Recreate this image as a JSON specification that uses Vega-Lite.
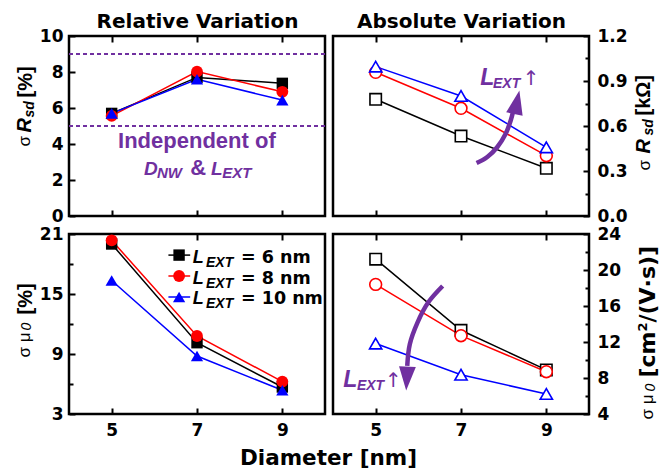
{
"$schema":"https://vega.github.io/schema/vega-lite/v6.json",
"padding":{"left":12,"top":9,"right":0,"bottom":0},
"datasets":{"main":[
{"p":"TL","L":"6","d":5,"v":5.70},{"p":"TL","L":"6","d":7,"v":7.70},{"p":"TL","L":"6","d":9,"v":7.37},
{"p":"TL","L":"8","d":5,"v":5.56},{"p":"TL","L":"8","d":7,"v":8.02},{"p":"TL","L":"8","d":9,"v":6.90},
{"p":"TL","L":"10","d":5,"v":5.70},{"p":"TL","L":"10","d":7,"v":7.60},{"p":"TL","L":"10","d":9,"v":6.44},
{"p":"TR","L":"6","d":5,"v":0.778},{"p":"TR","L":"6","d":7,"v":0.533},{"p":"TR","L":"6","d":9,"v":0.318},
{"p":"TR","L":"8","d":5,"v":0.958},{"p":"TR","L":"8","d":7,"v":0.718},{"p":"TR","L":"8","d":9,"v":0.402},
{"p":"TR","L":"10","d":5,"v":0.996},{"p":"TR","L":"10","d":7,"v":0.800},{"p":"TR","L":"10","d":9,"v":0.458},
{"p":"BL","L":"6","d":5,"v":20.0},{"p":"BL","L":"6","d":7,"v":10.13},{"p":"BL","L":"6","d":9,"v":5.70},
{"p":"BL","L":"8","d":5,"v":20.37},{"p":"BL","L":"8","d":7,"v":10.8},{"p":"BL","L":"8","d":9,"v":6.24},
{"p":"BL","L":"10","d":5,"v":16.35},{"p":"BL","L":"10","d":7,"v":8.8},{"p":"BL","L":"10","d":9,"v":5.37},
{"p":"BR","L":"6","d":5,"v":21.2},{"p":"BR","L":"6","d":7,"v":13.3},{"p":"BR","L":"6","d":9,"v":8.9},
{"p":"BR","L":"8","d":5,"v":18.4},{"p":"BR","L":"8","d":7,"v":12.7},{"p":"BR","L":"8","d":9,"v":8.7},
{"p":"BR","L":"10","d":5,"v":11.83},{"p":"BR","L":"10","d":7,"v":8.36},{"p":"BR","L":"10","d":9,"v":6.22}
]},
"columns":2,
"spacing":{"row":18,"column":8},
"bounds":"flush",
"concat":[
{"width":256,"height":180,
"data":{"name":"main"},
"transform":[{"filter":"datum.p==='TL'"}],
"resolve":{"axis":{"x":"independent","y":"independent"}},
"layer":[
{"mark":{"type":"point","opacity":0},"encoding":{
"x":{"field":"d","type":"quantitative","scale":{"domain":[4,10],"nice":false,"zero":false},"axis":{"orient":"bottom","values":[5,7,9],"tickSize":-6,"labels":false,"title":null}},
"y":{"field":"v","type":"quantitative","scale":{"domain":[0,10],"nice":false,"zero":false},"axis":{"orient":"left","values":[0,2,4,6,8,10],"tickSize":-6,"labelPadding":12,"title":"[%]","titleX":-38,"titleY":61,"titleFontSize":20,"titleFontWeight":"bold","titleAngle":-90,"titleAlign":"left","titleBaseline":"alphabetic"}}}},
{"mark":{"type":"point","opacity":0},"encoding":{
"x":{"field":"d","type":"quantitative","scale":{"domain":[4,10],"nice":false,"zero":false},"axis":{"orient":"top","values":[5,7,9],"tickSize":-6,"labels":false,"title":"Relative Variation","titleFont":"DejaVu Sans","titleFontSize":20,"titleFontWeight":"bold","titleAngle":0,"titleAlign":"center","titleBaseline":"alphabetic","titleX":128,"titleY":-9}},
"y":{"field":"v","type":"quantitative","scale":{"domain":[0,10],"nice":false,"zero":false},"axis":{"orient":"left","ticks":false,"labels":false,"title":"R","titleX":-39,"titleY":96,"titleFontSize":20,"titleFontWeight":"bold","titleFontStyle":"italic","titleAngle":-90,"titleAlign":"left","titleBaseline":"alphabetic"}}}},
{"mark":{"type":"point","opacity":0},"encoding":{
"x":{"field":"d","type":"quantitative","scale":{"domain":[4,10],"nice":false,"zero":false},"axis":null},
"y":{"field":"v","type":"quantitative","scale":{"domain":[0,10],"nice":false,"zero":false},"axis":{"orient":"left","ticks":false,"labels":false,"title":"sd","titleX":-36,"titleY":81,"titleFontSize":14,"titleFontWeight":"bold","titleFontStyle":"italic","titleAngle":-90,"titleAlign":"left","titleBaseline":"alphabetic"}}}},
{"mark":{"type":"point","opacity":0},"encoding":{
"x":{"field":"d","type":"quantitative","scale":{"domain":[4,10],"nice":false,"zero":false},"axis":null},
"y":{"field":"v","type":"quantitative","scale":{"domain":[0,10],"nice":false,"zero":false},"axis":{"orient":"left","ticks":false,"labels":false,"title":"σ","titleX":-40,"titleY":110,"titleFontSize":17,"titleFontWeight":"normal","titleAngle":-90,"titleAlign":"left","titleBaseline":"alphabetic"}}}},
{"data":{"values":[{"r":5},{"r":9}]},"mark":{"type":"rule","color":"#7030A0","strokeWidth":2,"strokeDash":[4,3]},"encoding":{
"y":{"field":"r","type":"quantitative","scale":{"domain":[0,10],"nice":false,"zero":false},"axis":null}}},
{"mark":{"type":"line","strokeWidth":1.5},"encoding":{
"x":{"field":"d","type":"quantitative","scale":{"domain":[4,10],"nice":false,"zero":false},"axis":null},
"y":{"field":"v","type":"quantitative","scale":{"domain":[0,10],"nice":false,"zero":false},"axis":null},
"color":{"field":"L","type":"nominal","scale":{"domain":["6","8","10"],"range":["black","#ff0000","#0000ff"]},"legend":null}}},
{"mark":{"type":"point","filled":true,"opacity":1},"encoding":{
"x":{"field":"d","type":"quantitative","scale":{"domain":[4,10],"nice":false,"zero":false},"axis":null},
"y":{"field":"v","type":"quantitative","scale":{"domain":[0,10],"nice":false,"zero":false},"axis":null},
"color":{"field":"L","type":"nominal","scale":{"domain":["6","8","10"],"range":["black","#ff0000","#0000ff"]},"legend":null},
"shape":{"field":"L","type":"nominal","scale":{"domain":["6","8","10"],"range":["square","circle","triangle-up"]},"legend":null},
"size":{"field":"L","type":"nominal","scale":{"domain":["6","8","10"],"range":[130,150,200]},"legend":null}}},
{"data":{"values":[{"t":"Independent of","x":5.15,"y":3.78},{"t":"&","x":6.84,"y":2.28}]},"mark":{"type":"text","font":"Liberation Sans","fontSize":22,"fontWeight":"bold","color":"#7030A0","align":"left","baseline":"alphabetic"},"encoding":{
"x":{"field":"x","type":"quantitative","scale":{"domain":[4,10],"nice":false,"zero":false},"axis":null},
"y":{"field":"y","type":"quantitative","scale":{"domain":[0,10],"nice":false,"zero":false},"axis":null},
"text":{"field":"t"}}},
{"data":{"values":[{"t":"D","x":5.76,"y":2.28},{"t":"L","x":7.33,"y":2.28}]},"mark":{"type":"text","font":"Liberation Sans","fontSize":19,"fontWeight":"bold","fontStyle":"italic","color":"#7030A0","align":"left","baseline":"alphabetic"},"encoding":{
"x":{"field":"x","type":"quantitative","scale":{"domain":[4,10],"nice":false,"zero":false},"axis":null},
"y":{"field":"y","type":"quantitative","scale":{"domain":[0,10],"nice":false,"zero":false},"axis":null},
"text":{"field":"t"}}},
{"data":{"values":[{"t":"NW","x":6.06,"y":2.28},{"t":"EXT","x":7.59,"y":2.28}]},"mark":{"type":"text","font":"Liberation Sans","fontSize":15,"fontWeight":"bold","fontStyle":"italic","color":"#7030A0","align":"left","baseline":"alphabetic","dy":3},"encoding":{
"x":{"field":"x","type":"quantitative","scale":{"domain":[4,10],"nice":false,"zero":false},"axis":null},
"y":{"field":"y","type":"quantitative","scale":{"domain":[0,10],"nice":false,"zero":false},"axis":null},
"text":{"field":"t"}}}
]},
{"width":256,"height":180,
"data":{"name":"main"},
"transform":[{"filter":"datum.p==='TR'"}],
"resolve":{"axis":{"x":"independent","y":"independent"}},
"layer":[
{"mark":{"type":"point","opacity":0},"encoding":{
"x":{"field":"d","type":"quantitative","scale":{"domain":[4,10],"nice":false,"zero":false},"axis":{"orient":"bottom","values":[5,7,9],"tickSize":-6,"labels":false,"title":null}},
"y":{"field":"v","type":"quantitative","scale":{"domain":[0,1.2],"nice":false,"zero":false},"axis":{"orient":"right","values":[0,0.3,0.6,0.9,1.2],"format":".1f","tickSize":-6,"labelPadding":14,"title":"[kΩ]","titleX":60,"titleY":79,"titleFontSize":20,"titleFontWeight":"bold","titleAngle":-90,"titleAlign":"left","titleBaseline":"alphabetic"}}}},
{"mark":{"type":"point","opacity":0},"encoding":{
"x":{"field":"d","type":"quantitative","scale":{"domain":[4,10],"nice":false,"zero":false},"axis":{"orient":"top","values":[5,7,9],"tickSize":-6,"labels":false,"title":"Absolute Variation","titleFont":"DejaVu Sans","titleFontSize":20,"titleFontWeight":"bold","titleAngle":0,"titleAlign":"center","titleBaseline":"alphabetic","titleX":128,"titleY":-9}},
"y":{"field":"v","type":"quantitative","scale":{"domain":[0,1.2],"nice":false,"zero":false},"axis":{"orient":"right","values":[0.15,0.45,0.75,1.05],"tickSize":-4,"labels":false,"title":"R","titleX":60,"titleY":117,"titleFontSize":20,"titleFontWeight":"bold","titleFontStyle":"italic","titleAngle":-90,"titleAlign":"left","titleBaseline":"alphabetic"}}}},
{"mark":{"type":"point","opacity":0},"encoding":{
"x":{"field":"d","type":"quantitative","scale":{"domain":[4,10],"nice":false,"zero":false},"axis":null},
"y":{"field":"v","type":"quantitative","scale":{"domain":[0,1.2],"nice":false,"zero":false},"axis":{"orient":"right","ticks":false,"labels":false,"title":"sd","titleX":63,"titleY":99,"titleFontSize":14,"titleFontWeight":"bold","titleFontStyle":"italic","titleAngle":-90,"titleAlign":"left","titleBaseline":"alphabetic"}}}},
{"mark":{"type":"point","opacity":0},"encoding":{
"x":{"field":"d","type":"quantitative","scale":{"domain":[4,10],"nice":false,"zero":false},"axis":null},
"y":{"field":"v","type":"quantitative","scale":{"domain":[0,1.2],"nice":false,"zero":false},"axis":{"orient":"right","ticks":false,"labels":false,"title":"σ","titleX":60,"titleY":134,"titleFontSize":17,"titleFontWeight":"normal","titleAngle":-90,"titleAlign":"left","titleBaseline":"alphabetic"}}}},
{"mark":{"type":"line","strokeWidth":1.5},"encoding":{
"x":{"field":"d","type":"quantitative","scale":{"domain":[4,10],"nice":false,"zero":false},"axis":null},
"y":{"field":"v","type":"quantitative","scale":{"domain":[0,1.2],"nice":false,"zero":false},"axis":null},
"stroke":{"field":"L","type":"nominal","scale":{"domain":["6","8","10"],"range":["black","#ff0000","#0000ff"]},"legend":null}}},
{"mark":{"type":"point","filled":false,"fill":"white","strokeWidth":1.6,"opacity":1},"encoding":{
"x":{"field":"d","type":"quantitative","scale":{"domain":[4,10],"nice":false,"zero":false},"axis":null},
"y":{"field":"v","type":"quantitative","scale":{"domain":[0,1.2],"nice":false,"zero":false},"axis":null},
"stroke":{"field":"L","type":"nominal","scale":{"domain":["6","8","10"],"range":["black","#ff0000","#0000ff"]},"legend":null},
"shape":{"field":"L","type":"nominal","scale":{"domain":["6","8","10"],"range":["square","circle","triangle-up"]},"legend":null},
"size":{"field":"L","type":"nominal","scale":{"domain":["6","8","10"],"range":[100,125,180]},"legend":null}}},
{"data":{"values":[{"i":0,"x":7.365,"y":0.353},{"i":1,"x":7.616,"y":0.393},{"i":2,"x":7.852,"y":0.46},{"i":3,"x":8.047,"y":0.548},{"i":4,"x":8.165,"y":0.637},{"i":5,"x":8.228,"y":0.703}]},
"mark":{"type":"line","color":"#7030A0","strokeWidth":4.5,"interpolate":"catmull-rom"},"encoding":{
"x":{"field":"x","type":"quantitative","scale":{"domain":[4,10],"nice":false,"zero":false},"axis":null},
"y":{"field":"y","type":"quantitative","scale":{"domain":[0,1.2],"nice":false,"zero":false},"axis":null},
"order":{"field":"i"}}},
{"data":{"values":[{"x":8.31,"y":0.758}]},"mark":{"type":"point","shape":"M0,-1L0.7,1L-0.7,1Z","size":576,"angle":12,"filled":true,"color":"#7030A0","opacity":1},"encoding":{
"x":{"field":"x","type":"quantitative","scale":{"domain":[4,10],"nice":false,"zero":false},"axis":null},
"y":{"field":"y","type":"quantitative","scale":{"domain":[0,1.2],"nice":false,"zero":false},"axis":null}}},
{"data":{"values":[{"t":"L","x":7.45,"y":0.873}]},"mark":{"type":"text","font":"Liberation Sans","fontSize":23,"fontWeight":"bold","fontStyle":"italic","color":"#7030A0","align":"left","baseline":"alphabetic"},"encoding":{
"x":{"field":"x","type":"quantitative","scale":{"domain":[4,10],"nice":false,"zero":false},"axis":null},
"y":{"field":"y","type":"quantitative","scale":{"domain":[0,1.2],"nice":false,"zero":false},"axis":null},
"text":{"field":"t"}}},
{"data":{"values":[{"t":"EXT","x":7.75,"y":0.873}]},"mark":{"type":"text","font":"Liberation Sans","fontSize":14,"fontWeight":"bold","fontStyle":"italic","color":"#7030A0","align":"left","baseline":"alphabetic","dy":3},"encoding":{
"x":{"field":"x","type":"quantitative","scale":{"domain":[4,10],"nice":false,"zero":false},"axis":null},
"y":{"field":"y","type":"quantitative","scale":{"domain":[0,1.2],"nice":false,"zero":false},"axis":null},
"text":{"field":"t"}}},
{"data":{"values":[{"t":"↑","x":8.45,"y":0.873}]},"mark":{"type":"text","font":"DejaVu Sans","fontSize":20,"color":"#7030A0","align":"left","baseline":"alphabetic"},"encoding":{
"x":{"field":"x","type":"quantitative","scale":{"domain":[4,10],"nice":false,"zero":false},"axis":null},
"y":{"field":"y","type":"quantitative","scale":{"domain":[0,1.2],"nice":false,"zero":false},"axis":null},
"text":{"field":"t"}}}
]},
{"width":256,"height":180,
"data":{"name":"main"},
"transform":[{"filter":"datum.p==='BL'"}],
"resolve":{"axis":{"x":"independent","y":"independent"}},
"layer":[
{"mark":{"type":"point","opacity":0},"encoding":{
"x":{"field":"d","type":"quantitative","scale":{"domain":[4,10],"nice":false,"zero":false},"axis":{"orient":"bottom","values":[5,7,9],"tickSize":-6,"labelPadding":14,"title":"Diameter [nm]","titleFont":"DejaVu Sans","titleFontSize":21.5,"titleFontWeight":"bold","titleAngle":0,"titleAlign":"center","titleBaseline":"alphabetic","titleX":259,"titleY":50}},
"y":{"field":"v","type":"quantitative","scale":{"domain":[3,21],"nice":false,"zero":false},"axis":{"orient":"left","values":[3,9,15,21],"tickSize":-6,"labelPadding":12,"title":"[%]","titleX":-38,"titleY":80,"titleFontSize":20,"titleFontWeight":"bold","titleAngle":-90,"titleAlign":"left","titleBaseline":"alphabetic"}}}},
{"mark":{"type":"point","opacity":0},"encoding":{
"x":{"field":"d","type":"quantitative","scale":{"domain":[4,10],"nice":false,"zero":false},"axis":{"orient":"top","values":[5,7,9],"tickSize":-6,"labels":false,"title":null}},
"y":{"field":"v","type":"quantitative","scale":{"domain":[3,21],"nice":false,"zero":false},"axis":{"orient":"left","values":[6,12,18],"tickSize":-4,"labels":false,"title":"0","titleX":-39,"titleY":96,"titleFontSize":14,"titleFontWeight":"normal","titleFontStyle":"italic","titleAngle":-90,"titleAlign":"left","titleBaseline":"alphabetic"}}}},
{"mark":{"type":"point","opacity":0},"encoding":{
"x":{"field":"d","type":"quantitative","scale":{"domain":[4,10],"nice":false,"zero":false},"axis":null},
"y":{"field":"v","type":"quantitative","scale":{"domain":[3,21],"nice":false,"zero":false},"axis":{"orient":"left","ticks":false,"labels":false,"title":"σ μ","titleX":-40,"titleY":123,"titleFontSize":17,"titleFontWeight":"normal","titleAngle":-90,"titleAlign":"left","titleBaseline":"alphabetic"}}}},
{"mark":{"type":"line","strokeWidth":1.5},"encoding":{
"x":{"field":"d","type":"quantitative","scale":{"domain":[4,10],"nice":false,"zero":false},"axis":null},
"y":{"field":"v","type":"quantitative","scale":{"domain":[3,21],"nice":false,"zero":false},"axis":null},
"color":{"field":"L","type":"nominal","scale":{"domain":["6","8","10"],"range":["black","#ff0000","#0000ff"]},"legend":null}}},
{"mark":{"type":"point","filled":true,"opacity":1},"encoding":{
"x":{"field":"d","type":"quantitative","scale":{"domain":[4,10],"nice":false,"zero":false},"axis":null},
"y":{"field":"v","type":"quantitative","scale":{"domain":[3,21],"nice":false,"zero":false},"axis":null},
"color":{"field":"L","type":"nominal","scale":{"domain":["6","8","10"],"range":["black","#ff0000","#0000ff"]},"legend":null},
"shape":{"field":"L","type":"nominal","scale":{"domain":["6","8","10"],"range":["square","circle","triangle-up"]},"legend":null},
"size":{"field":"L","type":"nominal","scale":{"domain":["6","8","10"],"range":[130,150,200]},"legend":null}}},
{"data":{"values":[{"L":"6","ys":18.89,"ty":18.13,"label":"= 6 nm"},{"L":"8","ys":16.8,"ty":16.03,"label":"= 8 nm"},{"L":"10","ys":14.7,"ty":13.97,"label":"= 10 nm"}]},
"layer":[
{"mark":{"type":"rule","strokeWidth":1.5},"encoding":{
"x":{"datum":6.33,"type":"quantitative","scale":{"domain":[4,10],"nice":false,"zero":false},"axis":null},
"x2":{"datum":6.84},
"y":{"field":"ys","type":"quantitative","scale":{"domain":[3,21],"nice":false,"zero":false},"axis":null},
"color":{"field":"L","type":"nominal","scale":{"domain":["6","8","10"],"range":["black","#ff0000","#0000ff"]},"legend":null}}},
{"mark":{"type":"point","filled":true,"opacity":1},"encoding":{
"x":{"datum":6.58,"type":"quantitative","scale":{"domain":[4,10],"nice":false,"zero":false},"axis":null},
"y":{"field":"ys","type":"quantitative","scale":{"domain":[3,21],"nice":false,"zero":false},"axis":null},
"color":{"field":"L","type":"nominal","scale":{"domain":["6","8","10"],"range":["black","#ff0000","#0000ff"]},"legend":null},
"shape":{"field":"L","type":"nominal","scale":{"domain":["6","8","10"],"range":["square","circle","triangle-up"]},"legend":null},
"size":{"field":"L","type":"nominal","scale":{"domain":["6","8","10"],"range":[130,150,200]},"legend":null}}},
{"mark":{"type":"text","text":"L","font":"Liberation Sans","fontSize":18,"fontWeight":"bold","fontStyle":"italic","color":"black","align":"left","baseline":"alphabetic"},"encoding":{
"x":{"datum":6.9,"type":"quantitative","scale":{"domain":[4,10],"nice":false,"zero":false},"axis":null},
"y":{"field":"ty","type":"quantitative","scale":{"domain":[3,21],"nice":false,"zero":false},"axis":null}}},
{"mark":{"type":"text","text":"EXT","font":"Liberation Sans","fontSize":14,"fontWeight":"bold","fontStyle":"italic","color":"black","align":"left","baseline":"alphabetic","dy":4},"encoding":{
"x":{"datum":7.21,"type":"quantitative","scale":{"domain":[4,10],"nice":false,"zero":false},"axis":null},
"y":{"field":"ty","type":"quantitative","scale":{"domain":[3,21],"nice":false,"zero":false},"axis":null}}},
{"mark":{"type":"text","font":"DejaVu Sans","fontSize":17.5,"fontWeight":"bold","color":"black","align":"left","baseline":"alphabetic"},"encoding":{
"x":{"datum":8.03,"type":"quantitative","scale":{"domain":[4,10],"nice":false,"zero":false},"axis":null},
"y":{"field":"ty","type":"quantitative","scale":{"domain":[3,21],"nice":false,"zero":false},"axis":null},
"text":{"field":"label"}}}
]}
]},
{"width":256,"height":180,
"data":{"name":"main"},
"transform":[{"filter":"datum.p==='BR'"}],
"resolve":{"axis":{"x":"independent","y":"independent"}},
"layer":[
{"mark":{"type":"point","opacity":0},"encoding":{
"x":{"field":"d","type":"quantitative","scale":{"domain":[4,10],"nice":false,"zero":false},"axis":{"orient":"bottom","values":[5,7,9],"tickSize":-6,"labelPadding":14,"title":null}},
"y":{"field":"v","type":"quantitative","scale":{"domain":[4,24],"nice":false,"zero":false},"axis":{"orient":"right","values":[4,8,12,16,20,24],"tickSize":-6,"labelPadding":14,"title":"/(V·s)]","titleFont":"DejaVu Sans","titleX":65,"titleY":88,"titleFontSize":22,"titleFontWeight":"bold","titleAngle":-90,"titleAlign":"left","titleBaseline":"alphabetic"}}}},
{"mark":{"type":"point","opacity":0},"encoding":{
"x":{"field":"d","type":"quantitative","scale":{"domain":[4,10],"nice":false,"zero":false},"axis":{"orient":"top","values":[5,7,9],"tickSize":-6,"labels":false,"title":null}},
"y":{"field":"v","type":"quantitative","scale":{"domain":[4,24],"nice":false,"zero":false},"axis":{"orient":"right","values":[6,10,14,18,22],"tickSize":-4,"labels":false,"title":"2","titleFont":"DejaVu Sans","titleX":57,"titleY":97,"titleFontSize":13,"titleFontWeight":"bold","titleAngle":-90,"titleAlign":"left","titleBaseline":"alphabetic"}}}},
{"mark":{"type":"point","opacity":0},"encoding":{
"x":{"field":"d","type":"quantitative","scale":{"domain":[4,10],"nice":false,"zero":false},"axis":null},
"y":{"field":"v","type":"quantitative","scale":{"domain":[4,24],"nice":false,"zero":false},"axis":{"orient":"right","ticks":false,"labels":false,"title":"[cm","titleFont":"DejaVu Sans","titleX":65,"titleY":143,"titleFontSize":22,"titleFontWeight":"bold","titleAngle":-90,"titleAlign":"left","titleBaseline":"alphabetic"}}}},
{"mark":{"type":"point","opacity":0},"encoding":{
"x":{"field":"d","type":"quantitative","scale":{"domain":[4,10],"nice":false,"zero":false},"axis":null},
"y":{"field":"v","type":"quantitative","scale":{"domain":[4,24],"nice":false,"zero":false},"axis":{"orient":"right","ticks":false,"labels":false,"title":"σ μ","titleX":63,"titleY":185,"titleFontSize":17,"titleFontWeight":"normal","titleAngle":-90,"titleAlign":"left","titleBaseline":"alphabetic"}}}},
{"mark":{"type":"point","opacity":0},"encoding":{
"x":{"field":"d","type":"quantitative","scale":{"domain":[4,10],"nice":false,"zero":false},"axis":null},
"y":{"field":"v","type":"quantitative","scale":{"domain":[4,24],"nice":false,"zero":false},"axis":{"orient":"right","ticks":false,"labels":false,"title":"0","titleX":65,"titleY":157,"titleFontSize":14,"titleFontWeight":"normal","titleFontStyle":"italic","titleAngle":-90,"titleAlign":"left","titleBaseline":"alphabetic"}}}},
{"mark":{"type":"line","strokeWidth":1.5},"encoding":{
"x":{"field":"d","type":"quantitative","scale":{"domain":[4,10],"nice":false,"zero":false},"axis":null},
"y":{"field":"v","type":"quantitative","scale":{"domain":[4,24],"nice":false,"zero":false},"axis":null},
"stroke":{"field":"L","type":"nominal","scale":{"domain":["6","8","10"],"range":["black","#ff0000","#0000ff"]},"legend":null}}},
{"mark":{"type":"point","filled":false,"fill":"white","strokeWidth":1.6,"opacity":1},"encoding":{
"x":{"field":"d","type":"quantitative","scale":{"domain":[4,10],"nice":false,"zero":false},"axis":null},
"y":{"field":"v","type":"quantitative","scale":{"domain":[4,24],"nice":false,"zero":false},"axis":null},
"stroke":{"field":"L","type":"nominal","scale":{"domain":["6","8","10"],"range":["black","#ff0000","#0000ff"]},"legend":null},
"shape":{"field":"L","type":"nominal","scale":{"domain":["6","8","10"],"range":["square","circle","triangle-up"]},"legend":null},
"size":{"field":"L","type":"nominal","scale":{"domain":["6","8","10"],"range":[100,125,180]},"legend":null}}},
{"data":{"values":[{"i":0,"x":6.57,"y":18.22},{"i":1,"x":6.23,"y":16.38},{"i":2,"x":5.98,"y":14.16},{"i":3,"x":5.80,"y":11.76},{"i":4,"x":5.74,"y":9.35}]},
"mark":{"type":"line","color":"#7030A0","strokeWidth":4.5,"interpolate":"catmull-rom"},"encoding":{
"x":{"field":"x","type":"quantitative","scale":{"domain":[4,10],"nice":false,"zero":false},"axis":null},
"y":{"field":"y","type":"quantitative","scale":{"domain":[4,24],"nice":false,"zero":false},"axis":null},
"order":{"field":"i"}}},
{"data":{"values":[{"x":5.73,"y":7.93}]},"mark":{"type":"point","shape":"M0,-1L0.7,1L-0.7,1Z","size":576,"angle":183,"filled":true,"color":"#7030A0","opacity":1},"encoding":{
"x":{"field":"x","type":"quantitative","scale":{"domain":[4,10],"nice":false,"zero":false},"axis":null},
"y":{"field":"y","type":"quantitative","scale":{"domain":[4,24],"nice":false,"zero":false},"axis":null}}},
{"data":{"values":[{"t":"L","x":4.24,"y":7.0}]},"mark":{"type":"text","font":"Liberation Sans","fontSize":23,"fontWeight":"bold","fontStyle":"italic","color":"#7030A0","align":"left","baseline":"alphabetic"},"encoding":{
"x":{"field":"x","type":"quantitative","scale":{"domain":[4,10],"nice":false,"zero":false},"axis":null},
"y":{"field":"y","type":"quantitative","scale":{"domain":[4,24],"nice":false,"zero":false},"axis":null},
"text":{"field":"t"}}},
{"data":{"values":[{"t":"EXT","x":4.56,"y":7.0}]},"mark":{"type":"text","font":"Liberation Sans","fontSize":14,"fontWeight":"bold","fontStyle":"italic","color":"#7030A0","align":"left","baseline":"alphabetic","dy":3},"encoding":{
"x":{"field":"x","type":"quantitative","scale":{"domain":[4,10],"nice":false,"zero":false},"axis":null},
"y":{"field":"y","type":"quantitative","scale":{"domain":[4,24],"nice":false,"zero":false},"axis":null},
"text":{"field":"t"}}},
{"data":{"values":[{"t":"↑","x":5.22,"y":7.0}]},"mark":{"type":"text","font":"DejaVu Sans","fontSize":20,"color":"#7030A0","align":"left","baseline":"alphabetic"},"encoding":{
"x":{"field":"x","type":"quantitative","scale":{"domain":[4,10],"nice":false,"zero":false},"axis":null},
"y":{"field":"y","type":"quantitative","scale":{"domain":[4,24],"nice":false,"zero":false},"axis":null},
"text":{"field":"t"}}}
]}
],
"config":{
"view":{"stroke":"black","strokeWidth":2.5},
"font":"DejaVu Sans",
"legend":{"disable":true},
"axis":{"domain":false,"grid":false,"labelFont":"DejaVu Sans","labelFontSize":17,"labelFontWeight":"bold","labelColor":"black","tickColor":"black","tickWidth":2,"labelFlush":false,"labelOverlap":false,"labelBound":false,"titleColor":"black","titleFont":"Liberation Sans","titlePadding":0}
}
}
